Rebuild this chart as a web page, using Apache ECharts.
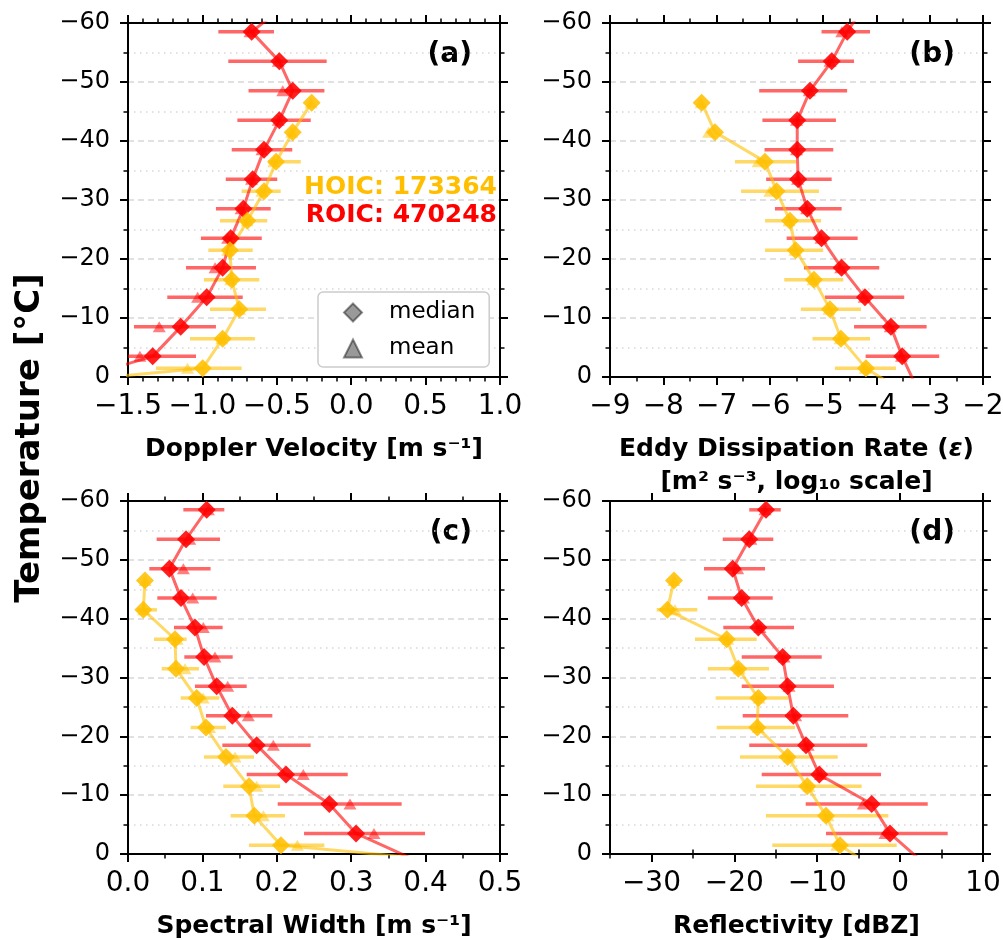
<!DOCTYPE html>
<html>
<head>
<meta charset="utf-8">
<script src="https://cdn.jsdelivr.net/npm/echarts@6/dist/echarts.min.js"></script>
<style>
html,body{margin:0;padding:0;background:#fff;}
#chart{width:1003px;height:940px;}
</style>
</head>
<body>
<div id="chart"></div>
<script>
// ---------------- DATA ----------------
const roicTemp = [-58.5, -53.5, -48.5, -43.5, -38.5, -33.5, -28.5, -23.5, -18.5, -13.5, -8.5, -3.5];
const hoicTemp = [-46.5, -41.5, -36.5, -31.5, -26.5, -21.5, -16.5, -11.5, -6.5, -1.5];
const roicExtTemp = [-63.5, 1.5];   // bins just outside the plotted range (line continues off-axes)
const hoicExtTemp = [1.5];
const hoicCount = 173364;
const roicCount = 470248;

// (a) Doppler velocity [m s-1]
const roicMedDV  = [-0.669, -0.483, -0.393, -0.483, -0.586, -0.662, -0.725, -0.810, -0.864, -0.971, -1.146, -1.334];
const roicMeanDV = [-0.680, -0.490, -0.460, -0.490, -0.600, -0.670, -0.740, -0.830, -0.915, -1.032, -1.290, -1.420];
const roicLoDV   = [-0.893, -0.826, -0.690, -0.765, -0.803, -0.843, -0.909, -1.010, -1.110, -1.236, -1.460, -1.620];
const roicHiDV   = [-0.519, -0.165, -0.180, -0.272, -0.396, -0.497, -0.541, -0.601, -0.640, -0.729, -0.909, -1.043];
const roicExtDV  = [-0.42, -2.0];
const hoicMedDV  = [-0.266, -0.393, -0.505, -0.586, -0.698, -0.815, -0.803, -0.752, -0.864, -0.998];
const hoicMeanDV = [-0.270, -0.400, -0.520, -0.600, -0.700, -0.830, -0.810, -0.750, -0.870, -1.100];
const hoicLoDV   = [-0.266, -0.393, -0.557, -0.736, -0.882, -0.960, -0.990, -0.949, -1.083, -1.312];
const hoicHiDV   = [-0.266, -0.393, -0.339, -0.474, -0.564, -0.662, -0.618, -0.573, -0.647, -0.736];
const hoicExtDV  = [-2.25];

// (b) Eddy dissipation rate [log10 m2 s-3]
const roicMedEDR  = [-4.548, -4.840, -5.248, -5.486, -5.486, -5.470, -5.298, -5.030, -4.654, -4.216, -3.728, -3.516];
const roicMeanEDR = [-4.650, -4.870, -5.260, -5.500, -5.500, -5.480, -5.310, -5.040, -4.670, -4.230, -3.740, -3.530];
const roicLoEDR   = [-5.030, -5.470, -6.200, -6.140, -6.100, -6.070, -5.905, -5.685, -5.360, -4.966, -4.420, -4.203];
const roicHiEDR   = [-4.120, -4.420, -4.550, -4.760, -4.810, -4.840, -4.653, -4.353, -3.947, -3.478, -3.058, -2.822];
const roicExtEDR  = [-4.19, -3.26];
const hoicMedEDR  = [-7.280, -7.030, -6.092, -5.873, -5.623, -5.516, -5.173, -4.872, -4.666, -4.197];
const hoicMeanEDR = [-7.290, -7.150, -6.220, -6.000, -5.640, -5.530, -5.190, -4.890, -4.680, -4.210];
const hoicLoEDR   = [-7.280, -7.030, -6.655, -6.540, -6.090, -6.090, -5.730, -5.417, -5.200, -4.780];
const hoicHiEDR   = [-7.280, -7.030, -5.510, -5.080, -5.040, -5.000, -4.623, -4.291, -4.120, -3.634];
const hoicExtEDR  = [-3.67];

// (c) Spectral width [m s-1]
const roicMedSW  = [0.1058, 0.0780, 0.0556, 0.0712, 0.0900, 0.1022, 0.1192, 0.1402, 0.1730, 0.2124, 0.2706, 0.3065];
const roicMeanSW = [0.1080, 0.0830, 0.0744, 0.0870, 0.1012, 0.1169, 0.1340, 0.1617, 0.1953, 0.2356, 0.2984, 0.3306];
const roicLoSW   = [0.0744, 0.0385, 0.0287, 0.0394, 0.0618, 0.0757, 0.0900, 0.1048, 0.1268, 0.1595, 0.2012, 0.2366];
const roicHiSW   = [0.1295, 0.1237, 0.1110, 0.1192, 0.1272, 0.1407, 0.1595, 0.1940, 0.2455, 0.2953, 0.3678, 0.3992];
const roicExtSW  = [null, 0.394];
const hoicMedSW  = [0.0228, 0.0206, 0.0632, 0.0645, 0.0923, 0.1048, 0.1317, 0.1626, 0.1698, 0.2056];
const hoicMeanSW = [0.0230, 0.0210, 0.0660, 0.0766, 0.1010, 0.1097, 0.1438, 0.1730, 0.1819, 0.2276];
const hoicLoSW   = [0.0228, 0.0120, 0.0350, 0.0453, 0.0708, 0.0842, 0.1022, 0.1281, 0.1380, 0.1626];
const hoicHiSW   = [0.0228, 0.0390, 0.0789, 0.0954, 0.1227, 0.1317, 0.1694, 0.2043, 0.2110, 0.2639];
const hoicExtSW  = [0.46];

// (d) Reflectivity [dBZ]
const roicMedZ  = [-16.18, -18.20, -20.20, -19.11, -17.11, -14.17, -13.57, -12.88, -11.35, -9.75, -3.43, -1.22];
const roicMeanZ = [-16.30, -18.00, -19.60, -18.90, -16.90, -14.00, -13.40, -12.60, -11.10, -9.60, -4.44, -1.83];
const roicLoZ   = [-18.20, -21.40, -23.66, -23.20, -21.33, -19.11, -19.11, -18.99, -18.20, -16.70, -11.39, -8.94];
const roicHiZ   = [-14.40, -15.30, -16.30, -15.37, -12.80, -9.46, -7.98, -6.25, -3.96, -2.30, 3.33, 5.74];
const roicExtZ  = [null, 2.8];
const hoicMedZ  = [-27.28, -28.08, -20.92, -19.52, -17.11, -17.23, -13.57, -11.20, -8.94, -7.25];
const hoicMeanZ = [-27.30, -27.16, -20.80, -19.40, -17.00, -17.10, -13.40, -11.00, -8.70, -7.65];
const hoicLoZ   = [-27.28, -29.37, -24.75, -23.20, -22.25, -22.13, -19.32, -17.39, -16.18, -15.42];
const hoicHiZ   = [-27.28, -24.47, -17.30, -15.82, -13.49, -12.68, -7.53, -4.64, -1.42, -0.41];
const hoicExtZ  = [-4.05];

// tick labels
const tempTicks = [-60, -50, -40, -30, -20, -10, 0];
const zMajorTicks = [-30, -20, -10, 0, 10];
const zMinorTicks = [-35, -25, -15, -5, 5];

// ---------------- STYLE / LAYOUT ----------------
const RED = '#ff0000', GOLD = '#ffbf00';
const FF = '"DejaVu Sans", sans-serif';
const minus = s => String(s).replace('-', '\u2212');

const grids = [
  {left: 128, top: 23, width: 372, height: 354},
  {left: 610, top: 23, width: 373, height: 354},
  {left: 128, top: 501, width: 372, height: 353},
  {left: 610, top: 501, width: 373, height: 353}
];

const panels = [
  {min: -1.5, max: 1.0, interval: 0.5, minor: 5, fmt: v => minus(v.toFixed(1)),
   name: 'Doppler Velocity [m s\u207B\u00B9]'},
  {min: -9, max: -2, interval: 1, minor: 2, fmt: v => minus(Math.round(v)),
   name: 'Eddy Dissipation Rate ({e|\u03B5})\n[m\u00B2 s\u207B\u00B3, log\u2081\u2080 scale]'},
  {min: 0, max: 0.5, interval: 0.1, minor: 2, fmt: v => minus(v.toFixed(1)),
   name: 'Spectral Width [m s\u207B\u00B9]'},
  {min: -35, max: 10, interval: 5, minor: 2, fmt: v => minus(Math.round(v)), custom: zMajorTicks,
   name: 'Reflectivity [dBZ]'}
];

const axLine = {show: true, onZero: false, lineStyle: {color: '#000', width: 2}};
const nameRich = {e: {fontStyle: 'italic', fontWeight: 'bold', fontSize: 25, fontFamily: FF, color: '#000'}};

const xAxes = [], yAxes = [];
grids.forEach((g, gi) => {
  const p = panels[gi];
  ['bottom', 'top'].forEach(pos => {
    const isB = pos === 'bottom';
    const o = {
      type: 'value', gridIndex: gi, position: pos, min: p.min, max: p.max, interval: p.interval,
      axisLine: axLine,
      axisTick: {show: true, inside: false, length: 8, lineStyle: {color: '#000', width: 2}},
      minorTick: {show: !p.custom, splitNumber: p.minor, length: 4.5, lineStyle: {color: '#000', width: 1.5}},
      axisLabel: {show: isB, fontSize: 28, color: '#000', margin: 16, fontFamily: FF, formatter: p.fmt},
      splitLine: {show: false}, minorSplitLine: {show: false},
      name: isB ? p.name : '', nameLocation: 'middle', nameGap: 56,
      nameTextStyle: {fontSize: 25, fontWeight: 'bold', color: '#000', fontFamily: FF, lineHeight: 33, rich: nameRich}
    };
    if (p.custom) {
      o.axisTick.customValues = p.custom;
      o.axisLabel.customValues = p.custom;
    }
    xAxes.push(o);
  });
  ['left', 'right'].forEach(pos => {
    const isL = pos === 'left';
    yAxes.push({
      type: 'value', gridIndex: gi, position: pos, inverse: true,
      min: tempTicks[0], max: tempTicks[tempTicks.length - 1], interval: 10,
      axisLine: axLine,
      axisTick: {show: true, inside: false, length: 8, lineStyle: {color: '#000', width: 2}},
      minorTick: {show: true, splitNumber: 2, length: 4.5, lineStyle: {color: '#000', width: 1.5}},
      axisLabel: {show: isL, fontSize: 24, color: '#000', margin: 18, fontFamily: FF, formatter: v => minus(v)},
      splitLine: {show: isL, lineStyle: {color: '#d8d8d8', width: 1.5, type: [6, 4]}},
      minorSplitLine: {show: isL, lineStyle: {color: '#d8d8d8', width: 1.5, type: [1.5, 4.5]}}
    });
  });
});
// minor tick axes for panel (d)
['bottom', 'top'].forEach(pos => {
  xAxes.push({
    type: 'value', gridIndex: 3, position: pos, min: panels[3].min, max: panels[3].max, interval: 5,
    axisLine: {show: false}, axisLabel: {show: false}, splitLine: {show: false},
    axisTick: {show: true, length: 4.5, customValues: zMinorTicks, lineStyle: {color: '#000', width: 1.5}}
  });
});

// ---------------- SERIES ----------------
function errSeries(gi, temps, lo, hi, color) {
  return {
    type: 'custom', xAxisIndex: gi * 2, yAxisIndex: gi * 2, clip: true, silent: true,
    data: temps.map((t, i) => [t, lo[i], hi[i]]),
    encode: {x: [1, 2], y: 0},
    renderItem: (params, api) => {
      const t = api.value(0);
      const a = api.coord([api.value(1), t]);
      const b = api.coord([api.value(2), t]);
      return {type: 'line', shape: {x1: a[0], y1: a[1], x2: b[0], y2: b[1]},
              style: {stroke: color, lineWidth: 3.5, opacity: 0.6}};
    }
  };
}
function lineSeries(gi, temps, med, extTemps, extVals, color) {
  const d = [];
  extTemps.forEach((t, k) => { if (extVals[k] != null && t < temps[0]) d.push({value: [extVals[k], t], symbol: 'none'}); });
  temps.forEach((t, i) => d.push([med[i], t]));
  extTemps.forEach((t, k) => { if (extVals[k] != null && t > temps[temps.length - 1]) d.push({value: [extVals[k], t], symbol: 'none'}); });
  return {
    type: 'line', xAxisIndex: gi * 2, yAxisIndex: gi * 2, clip: true, silent: true,
    data: d, symbol: 'diamond', symbolSize: 18,
    lineStyle: {color: color, width: 3, opacity: 0.6},
    itemStyle: {color: color, opacity: 0.88}
  };
}
function meanSeries(gi, temps, mean, color) {
  return {
    type: 'scatter', xAxisIndex: gi * 2, yAxisIndex: gi * 2, clip: true, silent: true,
    data: temps.map((t, i) => [mean[i], t]), symbol: 'triangle', symbolSize: [13, 11],
    itemStyle: {color: color, opacity: 0.5}
  };
}

const panelData = [
  {r: [roicMedDV, roicMeanDV, roicLoDV, roicHiDV, roicExtDV], h: [hoicMedDV, hoicMeanDV, hoicLoDV, hoicHiDV, hoicExtDV]},
  {r: [roicMedEDR, roicMeanEDR, roicLoEDR, roicHiEDR, roicExtEDR], h: [hoicMedEDR, hoicMeanEDR, hoicLoEDR, hoicHiEDR, hoicExtEDR]},
  {r: [roicMedSW, roicMeanSW, roicLoSW, roicHiSW, roicExtSW], h: [hoicMedSW, hoicMeanSW, hoicLoSW, hoicHiSW, hoicExtSW]},
  {r: [roicMedZ, roicMeanZ, roicLoZ, roicHiZ, roicExtZ], h: [hoicMedZ, hoicMeanZ, hoicLoZ, hoicHiZ, hoicExtZ]}
];

const series = [];
panelData.forEach((pd, gi) => {
  const [rm, rmean, rlo, rhi, rext] = pd.r;
  const [hm, hmean, hlo, hhi, hext] = pd.h;
  series.push(errSeries(gi, roicTemp, rlo, rhi, RED));
  series.push(lineSeries(gi, roicTemp, rm, roicExtTemp, rext, RED));
  series.push(meanSeries(gi, roicTemp, rmean, RED));
  series.push(errSeries(gi, hoicTemp, hlo, hhi, GOLD));
  series.push(lineSeries(gi, hoicTemp, hm, hoicExtTemp, hext, GOLD));
  series.push(meanSeries(gi, hoicTemp, hmean, GOLD));
});
// legend proxies
series.push({name: 'median', type: 'scatter', xAxisIndex: 0, yAxisIndex: 0, data: [],
  itemStyle: {color: 'rgba(0,0,0,0.5)', borderColor: 'rgba(0,0,0,0.55)', borderWidth: 1.5}});
series.push({name: 'mean', type: 'scatter', xAxisIndex: 0, yAxisIndex: 0, data: [],
  itemStyle: {color: 'rgba(0,0,0,0.5)', borderColor: 'rgba(0,0,0,0.55)', borderWidth: 1.5}});

// ---------------- TEXT ----------------
const panelLabels = ['(a)', '(b)', '(c)', '(d)'];
const graphics = [
  {type: 'text', x: 30, y: 438, rotation: Math.PI / 2,
   style: {text: 'Temperature [\u00B0C]', font: 'bold 34px ' + FF, fill: '#000', align: 'center', verticalAlign: 'middle'}},
  {type: 'text', x: 497, y: 187,
   style: {text: 'HOIC: ' + hoicCount, font: 'bold 25px ' + FF, fill: GOLD, align: 'right', verticalAlign: 'middle'}},
  {type: 'text', x: 497, y: 215,
   style: {text: 'ROIC: ' + roicCount, font: 'bold 25px ' + FF, fill: RED, align: 'right', verticalAlign: 'middle'}}
];
grids.forEach((g, gi) => {
  graphics.push({type: 'text', x: g.left + g.width - 28, y: g.top + 32,
    style: {text: panelLabels[gi], font: 'bold 28px ' + FF, fill: '#000', align: 'right', verticalAlign: 'middle'}});
});

const chart = echarts.init(document.getElementById('chart'), null, {renderer: 'canvas'});
chart.setOption({
  animation: false,
  backgroundColor: '#fff',
  textStyle: {fontFamily: FF},
  grid: grids.map(g => Object.assign({outerBoundsMode: 'none', containLabel: false}, g)),
  xAxis: xAxes,
  yAxis: yAxes,
  legend: {
    show: true, selectedMode: false, orient: 'vertical', left: 318, top: 292,
    padding: [9, 14, 7, 25], itemGap: 13, itemWidth: 18, itemHeight: 18,
    backgroundColor: '#fff', borderColor: '#cccccc', borderWidth: 1.5, borderRadius: 5,
    data: [{name: 'median', icon: 'diamond'}, {name: 'mean', icon: 'triangle'}],
    textStyle: {fontSize: 23, color: '#000', fontFamily: FF, padding: [0, 0, 0, 22]}
  },
  series: series,
  graphic: graphics
});
</script>
</body>
</html>
